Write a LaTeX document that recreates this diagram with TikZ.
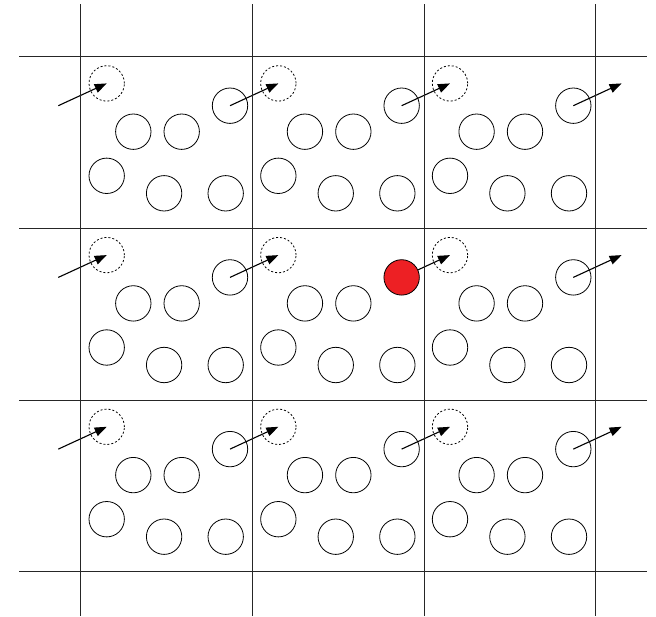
\documentclass[tikz,border=0pt]{standalone}
\usetikzlibrary{arrows.meta,backgrounds}
\definecolor{ballred}{RGB}{237,32,36}
\begin{document}
\begin{tikzpicture}[x=1pt,y=-1pt,
  grid/.style={line width=0.9pt, black!85},
  ball/.style={circle, draw, line width=0.8pt, minimum size=35.4pt, inner sep=0pt},
  ghost/.style={ball, dash pattern=on 2pt off 2pt},
  hot/.style={ball, fill=ballred},
  move/.style={line width=1.1pt, -{Triangle[length=12pt,width=9pt]}}]
\useasboundingbox (0,0) rectangle (656,616);
\foreach \k in {0,...,3} {
  \draw[grid] ({80.7+171.65*\k},4) -- ({80.7+171.65*\k},616);
  \draw[grid] (19,{56.7+171.7*\k}) -- (647,{56.7+171.7*\k});
}
\foreach \i in {0,1,2} {
  \foreach \j in {0,1,2} {
    \begin{scope}[shift={({80.7+171.65*\j},{56.7+171.7*\i})}]
      \node[ghost] (g-\i-\j) at (26,26.7) {};
      \ifnum\i\j=11
        \node[hot] (t-\i-\j) at (149.3,49) {};
      \else
        \node[ball] (t-\i-\j) at (149.3,49) {};
      \fi
      \node[ball] (a-\i-\j) at (52.6,75) {};
      \node[ball] (b-\i-\j) at (101,75) {};
      \node[ball] (c-\i-\j) at (26,119.1) {};
      \node[ball] (d-\i-\j) at (83.4,136.6) {};
      \node[ball] (e-\i-\j) at (145,136.6) {};
    \end{scope}
  }
}
\begin{scope}[on background layer]
\foreach \i in {0,1,2} {
  \coordinate (in-\i) at (58.3,{56.7+171.7*\i+49});
  \coordinate (out-\i) at (621.6,{56.7+171.7*\i+26.7});
  \draw[move] (in-\i) -- (g-\i-0.center);
  \draw[move] (t-\i-0.center) -- (g-\i-1.center);
  \draw[move] (t-\i-1.center) -- (g-\i-2.center);
  \draw[move] (t-\i-2.center) -- (out-\i);
}
\end{scope}
\end{tikzpicture}
\end{document}
